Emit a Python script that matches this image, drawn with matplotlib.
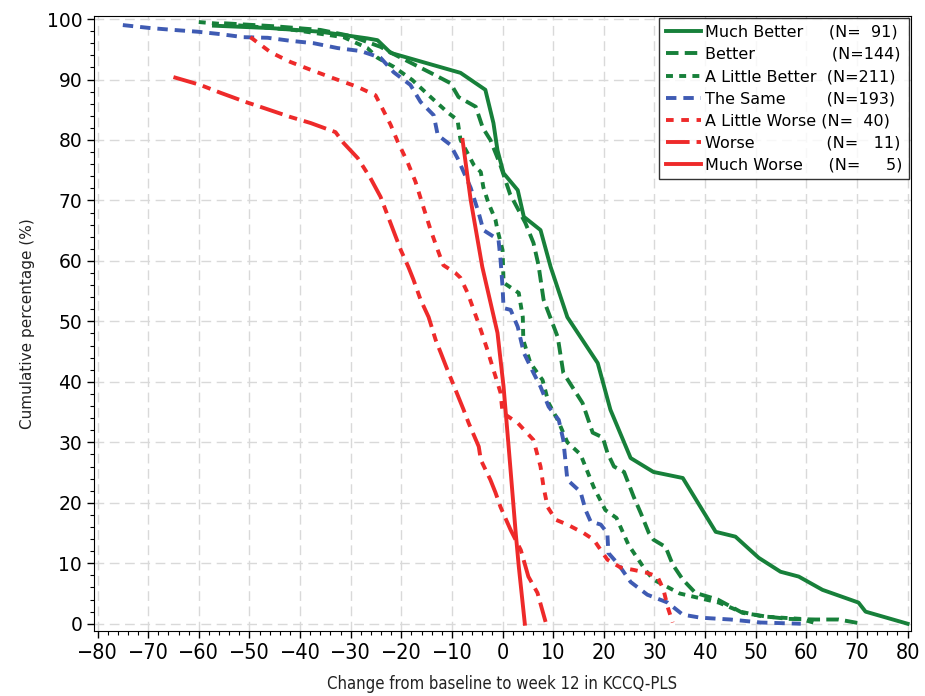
import matplotlib
matplotlib.use("Agg")
import matplotlib.pyplot as plt
from matplotlib.ticker import MultipleLocator

plt.rcParams['lines.scale_dashes'] = False

# cumulative curves: change score (x) vs cumulative % (y)
much_better_x = [-57, -45.8, -36, -26.7, -24.7, -22.1, -8.3, -3.4, -1.8, -1, 0.2, 3.0, 4.2, 7.5, 9.5,
                 12.8, 18.8, 21.3, 25.3, 29.8, 35.6, 42.1, 46.0, 50.6, 54.9, 58.5, 63.2, 70.3, 71.7, 80]
much_better_y = [98.9, 98.5, 97.9, 96.8, 96.5, 94.4, 91.1, 88.3, 82.8, 78.3, 74.5, 71.7, 67.3, 65.1, 59,
                 50.7, 43.1, 35.4, 27.4, 25.1, 24.1, 15.2, 14.4, 10.9, 8.6, 7.8, 5.6, 3.5, 2.0, 0]

better_x = [-55, -45, -36, -30, -24.1, -21.5, -14.2, -10.3, -8.7, -5.3, -3.9, -2.4, -0.5, 1.5, 4.5, 6.1,
            7.1, 8.1, 10.9, 12, 15.8, 17.8, 19.8, 20.7, 22, 24, 25.9, 27.3, 28.9, 29.8, 32.2, 33.6, 35.6,
            38.1, 42.5, 47.4, 52, 56.5, 61.8, 66.4, 71]
better_y = [99.3, 98.8, 98.2, 97.2, 95.4, 94.2, 91.1, 89.4, 87.1, 85.5, 82, 80, 76, 71, 66.3, 63,
            59.3, 53.6, 47.4, 41.5, 36.5, 31.6, 30.8, 28.3, 26, 25.1, 21, 18.3, 15, 13.9, 12.7, 9.8, 7.3,
            5.1, 4, 1.8, 1.2, 0.8, 0.7, 0.7, 0]

little_better_x = [-60, -50, -41.3, -31.4, -26.7, -24.7, -21.5, -17.8, -14.2, -10.9, -8.9, -8.3, -5.7,
                   -4.3, -3.8, -2.8, -1.4, -1, 0, 0.2, 3.2, 4, 4.1, 5.5, 7.9, 9.1, 10.9, 12.8, 15.4, 18,
                   20.3, 22.5, 24.9, 28.2, 29.8, 35, 42.7, 47, 51.4, 58.9, 61.4]
little_better_y = [99.5, 98.8, 98.2, 97.0, 95.2, 93.6, 92.1, 89.9, 87.1, 84.6, 83.3, 80, 75.9,
                   74.7, 72.2, 69.6, 66.8, 65.1, 61.8, 56.4, 54.7, 50.7, 46.9, 43.1, 40.3, 36.5, 33.7, 30,
                   28, 22.6, 18.8, 17.5, 13, 8.9, 7.3, 5, 3.5, 2, 1.2, 0.8, 0.2]

same_x = [-75, -69.5, -65, -60.2, -55.7, -51.2, -46.4, -41.9, -37.3, -32.6, -28, -24.1, -21.5, -18.2,
          -16.2, -13.6, -12.8, -10.3, -8.9, -6.3, -4.7, -3.8, -0.8, -0.4, 0, 0.2, 1.6, 3, 4.2, 6.1, 7.5,
          9.1, 11.1, 12, 12.4, 12.8, 15.4, 16.4, 17.4, 19.4, 20.7, 20.9, 22.9, 25.3, 28.6, 32.6, 35.6,
          39.1, 45, 51, 58.9]
same_y = [99, 98.5, 98.2, 97.9, 97.5, 97, 96.9, 96.4, 96, 95.2, 94.7, 93.6, 91.2, 89.1,
          86.3, 84.1, 80.8, 79.2, 77, 72.1, 67.9, 65.1, 63.5, 60.2, 55.7, 52.2, 51.9, 49.1, 44.8, 41.5, 39.2,
          35.9, 33.7, 30.4, 27.1, 23.8, 21.8, 18.8, 16.9, 16.4, 15, 11.7, 9.8, 6.9, 4.8, 3.5, 1.5,
          1, 0.7, 0.2, 0]

little_worse_x = [-49.8, -45.8, -41.9, -37.9, -33.4, -28.7, -25.1, -24.1, -22.1, -20.7, -18.8, -17.2,
                  -15.6, -14.2, -12.8, -11.7, -9.3, -8.3, -6.9, -5.7, -4.3, -3, -1.8, -0.4, 0, 3, 6.1,
                  7.5, 8.1, 8.9, 10.5, 12.8, 16, 18, 20.7, 23.3, 25.9, 28.6, 30.6, 31.8, 32.6, 33.6]
little_worse_y = [97, 94.5, 92.9, 91.6, 90.2, 88.8, 87.4, 85.8, 82.5, 79.7, 76.4, 73.1,
                  68.8, 65.1, 61.8, 59.3, 58, 57.2, 54.7, 51.9, 48.6, 45.3, 42, 38.2, 34.9, 33.2, 30.4,
                  26, 22.6, 19.3, 17.2, 16.4, 15, 13.9, 10.6, 9.3, 8.9, 8.4, 7.8, 5.6, 2.8, 0.2]

worse_x = [-65, -59.7, -55.7, -50.8, -47.2, -41.9, -37.9, -33, -31.4, -28.6, -26.1, -24.1, -23.1, -20.1,
           -18.6, -17.6, -16.2, -14.6, -13.2, -12.2, -10.9, -9.3, -7.7, -6.7, -4.7, -4.3, -2.4, -1.4,
           -0.4, 1.6, 3.6, 5.1, 6.9, 8.5]
worse_y = [90.4, 89.1, 87.8, 86.3, 85.3, 83.8, 82.8, 81.3, 79.5, 77, 73.7, 70.6, 68.4, 61.8,
           59, 56.9, 53.6, 50.7, 46.9, 44.8, 42, 38.7, 35.4, 33.2, 29.3, 27.1, 23.8, 21.7,
           19.3, 15.5, 12.2, 7.8, 5.1, 0.3]

much_worse_x = [-7.9, -6.3, -4, -1, 0.2, 1.2, 2.6, 3.2, 4.4]
much_worse_y = [80, 70.1, 59, 48.1, 39.2, 29.3, 15, 9.5, 0]

labels = ['Much Better     (N=  91)', 'Better               (N=144)', 'A Little Better  (N=211)',
          'The Same        (N=193)', 'A Little Worse (N=  40)', 'Worse              (N=   11)',
          'Much Worse     (N=     5)']

GREEN = '#17803a'
BLUE = '#3f5bb3'
RED = '#ee2a2a'

fig = plt.figure(figsize=(9.25, 6.96), dpi=100)
ax = fig.add_axes([0.1016, 0.0934, 0.8834, 0.8836])

lw = 2.8
ax.plot(much_better_x, much_better_y, color=GREEN, lw=lw, ls='-', label=labels[0])
ax.plot(better_x, better_y, color=GREEN, lw=lw, ls=(0, (9, 4.5)), label=labels[1])
ax.plot(little_better_x, little_better_y, color=GREEN, lw=lw, ls=(0, (5, 4.5)), label=labels[2])
ax.plot(same_x, same_y, color=BLUE, lw=lw, ls=(0, (7.5, 5)), label=labels[3])
ax.plot(little_worse_x, little_worse_y, color=RED, lw=lw, ls=(0, (5.5, 5.5)), label=labels[4])
ax.plot(worse_x, worse_y, color=RED, lw=lw, ls=(0, (17, 5, 6, 5)), label=labels[5])
ax.plot(much_worse_x, much_worse_y, color=RED, lw=lw, ls='-', label=labels[6])

ax.set_xlim(-80.7, 80.7)
ax.set_ylim(-1.2, 100.5)
ax.xaxis.set_major_locator(MultipleLocator(10))
ax.xaxis.set_minor_locator(MultipleLocator(2))
ax.yaxis.set_major_locator(MultipleLocator(10))
ax.yaxis.set_minor_locator(MultipleLocator(2))
ax.tick_params(which='major', direction='out', length=5, width=1, color='black')
ax.tick_params(which='minor', direction='out', length=3, width=0.8, color='black')
ax.grid(True, which='major', color='#d9d9d9', lw=1.0, ls=(0, (7, 4)))
ax.set_axisbelow(True)

for lab in ax.get_xticklabels():
    lab.set_family(['DejaVu Sans'])
    lab.set_stretch('condensed')
    lab.set_fontsize(15.5)
for lab in ax.get_yticklabels():
    lab.set_family(['DejaVu Sans'])
    lab.set_fontsize(13.5)

ax.set_xlabel('Change from baseline to week 12 in KCCQ-PLS', fontsize=12, labelpad=9,
              stretch='condensed', color='#222222')
ax.set_ylabel('Cumulative percentage (%)', fontsize=11, labelpad=8, color='#222222')

leg = ax.legend(loc='upper right', fontsize=11.5, frameon=True, fancybox=False, edgecolor='black',
                handlelength=2.2, handletextpad=0.25, labelspacing=0.45, borderpad=0.4,
                borderaxespad=0.15)
leg.get_frame().set_linewidth(1.0)

plt.savefig('out.png', dpi=100)
